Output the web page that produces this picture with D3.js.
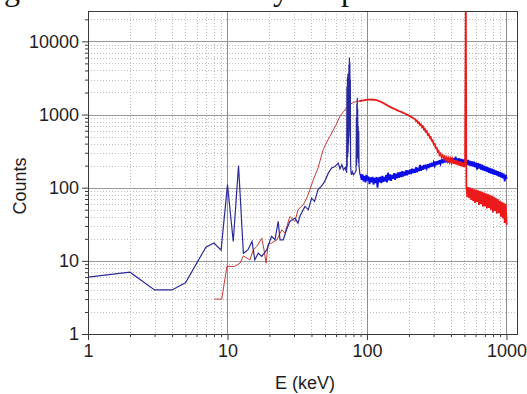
<!DOCTYPE html>
<html><head><meta charset="utf-8">
<script src="https://cdn.jsdelivr.net/npm/d3@7"></script>
<style>body{margin:0;background:#fff}svg{display:block}</style>
</head><body>
<svg id="c" width="527" height="394"></svg>
<script>
// ---- data ----
const titleWords = ["Fig. 5 Measured", "intensity", "of spectra"];
const xLabel = "E (keV)";
const yLabel = "Counts";
const xTickValues = [1, 10, 100, 1000];
const yTickValues = [1, 10, 100, 1000, 10000];

const blueLowE = [1,2,3,4,5,7,8,9,10,11,12,13,14,15,15.7,16.6,17.6,19.1,20.7,21.9,23.1,23.8,25.1,26.5,28,30.5,32,33,35.9,38,40.1,42.1,44.6,47,49.8,52.8,55.8,59,62.3,64,66,68,70,71.5,
  71.8,72.1,72.4,72.7,73.0,73.3,73.6,73.9,74.2,74.5,74.8,75.1,75.4,75.7,76.0,76.3,76.7,77.5,78.5,80,82,83.5,84,84.3,84.6,84.9,85.2,85.5,85.8,86.1,86.5,86.9,87.3,87.7,88.2,89];
const blueLowC = [6.0,7.0,4.0,4.0,5.0,15.4,17.5,14,110,18.4,200,12.7,14.1,18.4,10.3,12.7,11.5,14.1,21.6,19.4,34.6,19.4,19.4,26.6,34.6,38.5,32.8,40.4,55.5,50,72,65,94,104,122,158,186,195,217,180,206,175,190,160,
  2400,190,3200,260,3600,300,2800,400,4800,600,6000,700,5200,500,3000,220,170,150,165,150,160,170,900,200,1400,250,1700,300,1200,250,700,220,600,200,180,150];

const redLowE = [8,9.1,9.9,11.3,12.3,13,13.8,14.5,15.3,16.2,17.6,18.3,18.9,19.6,20.7,22.6,24.5,25.8,28,30.5,32,34.9,37,39,41.2,44.6,48.5,51.5,54.3,57.3,60,64,68,71.5,75.3,80,85,88];
const redLowC = [3.0,3.0,8.4,8.4,9.3,11.7,10.9,10.3,14.1,15.7,20.4,14,9.3,17,17.5,19.4,26.6,23.9,40.4,34.6,49.9,58.4,72,94,128,186,331,420,505,610,720,948,1100,1233,1370,1460,1510,1525];

const energyHi = [90,91.5,93,94.5,96,97.6,99.2,100.9,102.6,104.3,
106,107.8,109.6,111.4,113.2,115.1,117,119,121,123,
125,127,129,131,133,135,137,139,141.5,144,
146.5,149,151.5,154,156.5,159,161.5,164,167,170,
173,176,179,182,185,188,191,194,197,200,
203.5,207,210.5,214,217.5,221,224.5,228,232,236,
240,244,248,252,256,260,264,268.5,273,277.5,
282,286.5,291,296,301,306,311,316,321,326,
331,337,343,349,355,361,367,373,379,385,
391,397,404,411,418,425,432,439,446,453,
460,468,476,484,492,500,505,511,516,524,
532,541,550,559,568,577,586,596,606,616,
626,636,646,657,668,679,690,701,712,724,
736,748,760,773,786,799,812,825,839,853,
867,881,896,911,926,941,956,972,988,1004];

const blueHi = [150,128,152,122,145,118,150,125,142,112,
138,118,140,110,136,116,140,100,138,118,
142,115,145,120,140,122,150,118,160,126,
152,124,150,132,158,128,156,134,162,136,
164,140,168,142,165,146,174,148,172,152,
178,154,182,158,180,160,190,162,188,168,
205,170,198,176,204,180,206,184,210,186,
214,192,220,194,222,200,228,204,232,208,
238,212,244,216,248,220,252,222,256,220,
254,224,256,222,252,220,265,218,250,220,
252,214,248,212,244,210,242,212,238,206,
240,200,232,198,228,194,226,190,220,176,
216,182,212,176,206,172,200,168,196,164,
190,160,186,156,182,152,178,150,172,146,
168,142,164,138,160,134,156,122,150,132];

const redHi = [1530,1545,1555,1565,1575,1588,1585,1600,1595,1605,
1598,1604,1592,1598,1585,1582,1570,1555,1540,1520,
1500,1480,1455,1435,1410,1390,1365,1345,1320,1295,
1270,1250,1230,1215,1195,1180,1165,1150,1130,1115,
1100,1085,1070,1055,1040,1025,1010,995,980,965,
948,930,912,895,875,870,820,830,770,780,
720,730,670,690,625,640,580,590,530,540,
485,490,438,442,390,395,350,352,312,318,
280,292,262,276,248,266,238,258,230,252,
224,248,218,244,212,240,208,236,204,230,
200,226,196,222,192,216,195,40000,105,74,
102,72,100,68,98,66,95,62,94,64,
92,58,90,60,88,55,86,56,84,52,
82,53,80,50,78,46,75,48,72,44,
70,45,66,40,64,38,62,33,60,31];

// ---- layout ----
const svg = d3.select("#c");
const L = 88, R = 517.5, T = 11, B = 334;
const x = d3.scaleLog().domain([1, 1200]).range([L, R]);
const y = d3.scaleLog().domain([1, 26000]).range([B, T]);
const px = v => Math.round(x(v)) + 0.5;
const py = v => Math.round(y(v)) + 0.5;

// clipped caption above the chart (only descenders visible in the reference)
const serif = "Liberation Serif, Times New Roman, serif";
const anchors = [[2, 4], [8, 273], [4, 341]]; // [chars before descender glyph, target x]
titleWords.forEach((w, i) => {
  const t = svg.append("text").attr("y", 0).attr("font-family", serif)
    .attr("font-size", 32).attr("fill", "#111").text(w);
  const off = t.node().getSubStringLength(0, anchors[i][0]);
  t.attr("x", anchors[i][1] - off);
});

// grid
const minorX = [], minorY = [];
[1, 10, 100, 1000].forEach(d => { for (let k = 2; k <= 9; k++) if (d * k <= 1200) minorX.push(d * k); });
[1, 10, 100, 1000, 10000].forEach(d => { for (let k = 2; k <= 9; k++) if (d * k <= 26000) minorY.push(d * k); });

const g = svg.append("g");
g.selectAll(".mx").data(minorX).join("line")
  .attr("x1", d => px(d)).attr("x2", d => px(d)).attr("y1", T).attr("y2", B)
  .attr("stroke", "#bdbdbd").attr("stroke-dasharray", "1,2");
g.selectAll(".my").data(minorY).join("line")
  .attr("y1", d => py(d)).attr("y2", d => py(d)).attr("x1", L).attr("x2", R)
  .attr("stroke", "#bdbdbd").attr("stroke-dasharray", "1,2");
g.selectAll(".Mx").data(xTickValues.slice(1)).join("line")
  .attr("x1", d => px(d)).attr("x2", d => px(d)).attr("y1", T).attr("y2", B)
  .attr("stroke", "#8c8c8c");
g.selectAll(".My").data(yTickValues.slice(1)).join("line")
  .attr("y1", d => py(d)).attr("y2", d => py(d)).attr("x1", L).attr("x2", R)
  .attr("stroke", "#9a9a9a");

// series
svg.append("clipPath").attr("id", "clip").append("rect")
  .attr("x", L).attr("y", T).attr("width", R - L).attr("height", B - T);
const line = d3.line().x(d => x(d[0])).y(d => y(d[1]));
const blueLow = d3.zip(blueLowE, blueLowC);
const redLow = d3.zip(redLowE, redLowC);
const blueHiPts = [blueLow[blueLow.length - 1]].concat(d3.zip(energyHi, blueHi));
const redHiPts = [redLow[redLow.length - 1]].concat(d3.zip(energyHi, redHi));
const plot = svg.append("g").attr("clip-path", "url(#clip)");
plot.append("path").attr("d", line(redLow)).attr("fill", "none").attr("stroke", "#c83a3a").attr("stroke-width", 1);
plot.append("path").attr("d", line(blueLow)).attr("fill", "none").attr("stroke", "#2a2a9c").attr("stroke-width", 1.2);
plot.append("path").attr("d", line(blueHiPts)).attr("fill", "none").attr("stroke", "#0c0ce8").attr("stroke-width", 1.8);
plot.append("path").attr("d", line(redHiPts)).attr("fill", "none").attr("stroke", "#ec1a1a").attr("stroke-width", 1.8);

// frame
svg.append("rect").attr("x", L + 0.5).attr("y", T + 0.5).attr("width", Math.round(R - L) - 1).attr("height", B - T)
  .attr("fill", "none").attr("stroke", "#3a3a3a");

// axes
const font = "Liberation Sans, Arial, sans-serif";
const xMaj = svg.append("g").attr("transform", `translate(0,${B})`)
  .call(d3.axisBottom(x).tickValues(xTickValues).tickFormat(d3.format("d")).tickSize(6).tickSizeOuter(0).tickPadding(4));
const xMin = svg.append("g").attr("transform", `translate(0,${B})`)
  .call(d3.axisBottom(x).tickValues(minorX).tickFormat("").tickSize(3).tickSizeOuter(0));
const yMaj = svg.append("g").attr("transform", `translate(${L},0)`)
  .call(d3.axisLeft(y).tickValues(yTickValues).tickFormat(d3.format("d")).tickSize(6).tickSizeOuter(0).tickPadding(3));
const yMin = svg.append("g").attr("transform", `translate(${L},0)`)
  .call(d3.axisLeft(y).tickValues(minorY).tickFormat("").tickSize(3).tickSizeOuter(0));
[xMaj, xMin, yMaj, yMin].forEach(a => {
  a.select(".domain").remove();
  a.selectAll("line").attr("stroke", "#3a3a3a");
  a.selectAll("text").attr("font-family", font).attr("font-size", 18).attr("fill", "#1e1e1e");
});

svg.append("text").attr("x", 305).attr("y", 389).attr("text-anchor", "middle")
  .attr("font-family", font).attr("font-size", 18).attr("fill", "#1e1e1e").text(xLabel);
svg.append("text").attr("transform", "translate(26,186) rotate(-90)").attr("text-anchor", "middle")
  .attr("font-family", font).attr("font-size", 18).attr("fill", "#1e1e1e").text(yLabel);
</script>
</body></html>
